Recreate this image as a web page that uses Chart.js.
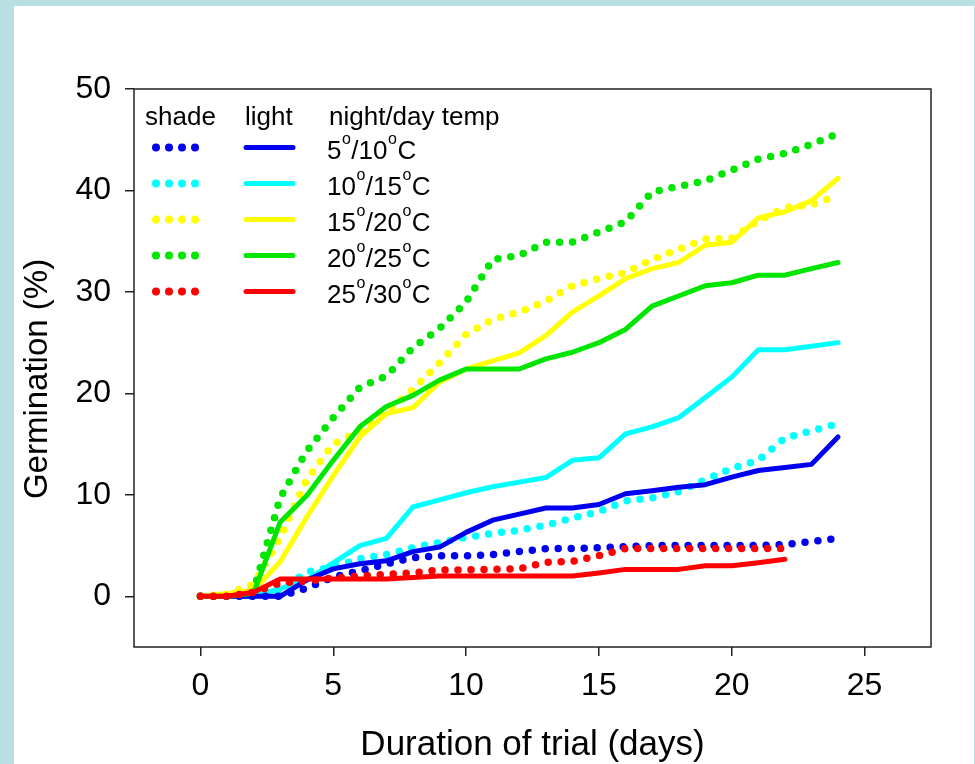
<!DOCTYPE html>
<html>
<head>
<meta charset="utf-8">
<title>Germination</title>
<script src="https://cdn.jsdelivr.net/npm/chart.js@4.4.1/dist/chart.umd.min.js"></script>
<style>
  html, body { margin: 0; padding: 0; }
  body { width: 975px; height: 764px; background: #b9dfe2; position: relative; overflow: hidden; }
  #panel { position: absolute; left: 14px; top: 6px; width: 960px; height: 758px; background: #fff; }
  #chart { position: absolute; left: 0; top: 0; }
</style>
</head>
<body>
<div id="panel"></div>
<canvas id="chart" width="975" height="764"></canvas>
<script>
// days of the trial
const days = [0, 1, 2, 3, 4, 5, 6, 7, 8, 9, 10, 11, 12, 13, 14, 15, 16, 17, 18, 19, 20, 21, 22, 23, 24];

// light (solid lines)
const light5_10  = [0, 0, 0, 0, 1.6, 2.7, 3.2, 3.5, 4.4, 4.85, 6.3, 7.5, 8.1, 8.7, 8.7, 9.05, 10.1, 10.4, 10.75, 11.0, 11.75, 12.4, 12.7, 13.0, 15.7];
const light10_15 = [0, 0, 0, 0.75, 1.6, 3.3, 5.0, 5.7, 8.8, 9.5, 10.2, 10.8, 11.25, 11.7, 13.4, 13.65, 16.0, 16.7, 17.6, 19.6, 21.6, 24.3, 24.3, 24.65, 25.0];
const light15_20 = [0, 0.27, 0.6, 3.4, 7.8, 11.9, 15.7, 18.0, 18.6, 21.1, 22.4, 23.2, 24.0, 25.7, 28.0, 29.6, 31.3, 32.3, 32.9, 34.6, 34.9, 37.3, 37.9, 39.0, 41.2];
const light20_25 = [0, 0, 0.3, 7.3, 9.9, 13.4, 16.7, 18.7, 19.8, 21.3, 22.4, 22.4, 22.4, 23.4, 24.05, 25.0, 26.3, 28.6, 29.6, 30.6, 30.9, 31.65, 31.65, 32.3, 32.9];
const light25_30 = [0, 0, 0.4, 1.7, 1.7, 1.7, 1.7, 1.7, 1.85, 2.0, 2.0, 2.0, 2.0, 2.0, 2.0, 2.3, 2.65, 2.65, 2.65, 3.0, 3.0, 3.3, 3.65];

// shade (dotted lines)
const shade5_10  = [0, 0, 0, 0, 0.8, 1.9, 2.5, 3.2, 3.8, 4.0, 4.0, 4.1, 4.4, 4.7, 4.7, 4.8, 4.9, 5.0, 5.0, 5.0, 5.0, 5.0, 5.1, 5.4, 5.7];
const shade10_15 = [0, 0, 0, 0.5, 2.4, 2.9, 3.7, 4.1, 4.8, 5.3, 5.8, 6.2, 6.5, 7.0, 7.7, 8.35, 9.4, 9.7, 10.3, 11.5, 12.6, 13.4, 15.6, 16.3, 17.0];
const shade15_20 = [0, 0.2, 1.2, 5.8, 11.5, 15.0, 16.3, 18.1, 20.4, 23.0, 25.8, 27.3, 28.0, 29.1, 30.6, 31.3, 31.9, 33.2, 34.2, 35.2, 35.3, 37.0, 38.3, 38.6, 39.5];
const shade20_25 = [0, 0, 0.5, 9.7, 14.3, 17.6, 20.6, 21.7, 24.5, 26.4, 29.0, 33.2, 33.6, 34.9, 34.9, 35.9, 36.9, 39.85, 40.4, 40.95, 42.0, 43.1, 43.65, 44.55, 45.6];
const shade25_30 = [0, 0, 0.4, 1.3, 1.5, 1.8, 2.0, 2.15, 2.3, 2.6, 2.6, 2.65, 2.7, 3.35, 3.45, 4.0, 4.7, 4.7, 4.7, 4.7, 4.7, 4.7, 4.7];

const tempLabels = ['5°/10°C', '10°/15°C', '15°/20°C', '20°/25°C', '25°/30°C'];
const xTicks = [0, 5, 10, 15, 20, 25];
const yTicks = [0, 10, 20, 30, 40, 50];

const colBlue = '#0000f0';
const colCyan = '#00ffff';
const colYellow = '#ffff00';
const colGreen = '#00e600';
const colRed = '#ff0000';
const legendColors = [colBlue, colCyan, colYellow, colGreen, colRed];

const fontFamily = '"Liberation Sans", Arial, Helvetica, sans-serif';
Chart.defaults.font.family = fontFamily;
Chart.defaults.color = '#000';

function points(values) {
    return values.map((v, i) => ({ x: days[i], y: v }));
}

function solid(values, color) {
    return {
        data: points(values),
        borderColor: color,
        borderWidth: 5,
        borderJoinStyle: 'round',
        borderCapStyle: 'round',
        pointRadius: 0,
        tension: 0,
        fill: false
    };
}

function dotted(values, color) {
    return {
        data: points(values),
        borderColor: color,
        borderWidth: 7.5,
        borderDash: [0, 13],
        borderCapStyle: 'round',
        pointRadius: 0,
        tension: 0,
        fill: false
    };
}

// draws "5o/10oC" with small raised o's
function drawTemp(ctx, label, x, base) {
    const parts = label.split('°');
    parts.forEach((part, i) => {
        ctx.font = '26px ' + fontFamily;
        ctx.fillText(part, x, base);
        x += ctx.measureText(part).width;
        if (i < parts.length - 1) {
            ctx.font = '16px ' + fontFamily;
            ctx.fillText('o', x + 0.5, base - 15.5);
            x += ctx.measureText('o').width + 1;
        }
    });
}

const framePlugin = {
    id: 'frame',
    afterDraw(chart) {
        const { ctx, chartArea } = chart;
        ctx.save();
        // box round the plot
        ctx.strokeStyle = '#222';
        ctx.lineWidth = 1.5;
        ctx.strokeRect(chartArea.left, chartArea.top, chartArea.right - chartArea.left, chartArea.bottom - chartArea.top);

        // y title
        ctx.fillStyle = '#000';
        ctx.font = '33px ' + fontFamily;
        ctx.textAlign = 'center';
        ctx.textBaseline = 'middle';
        ctx.translate(38, 379);
        ctx.rotate(-Math.PI / 2);
        ctx.fillText('Germination (%)', 0, 0);
        ctx.restore();

        // legend
        ctx.save();
        ctx.fillStyle = '#000';
        ctx.textBaseline = 'alphabetic';
        ctx.font = '26px ' + fontFamily;
        ctx.fillText('shade', 145, 125);
        ctx.fillText('light', 245, 125);
        ctx.fillText('night/day temp', 329, 125);
        tempLabels.forEach((label, i) => {
            const base = 159 + i * 36;
            const mid = base - 11.5;
            ctx.fillStyle = legendColors[i];
            for (let k = 0; k < 4; k++) {
                ctx.beginPath();
                ctx.arc(156 + k * 13, mid, 4, 0, Math.PI * 2);
                ctx.fill();
            }
            ctx.strokeStyle = legendColors[i];
            ctx.lineWidth = 5;
            ctx.lineCap = 'round';
            ctx.beginPath();
            ctx.moveTo(246, mid);
            ctx.lineTo(293, mid);
            ctx.stroke();
            ctx.fillStyle = '#000';
            drawTemp(ctx, label, 327, base);
        });
        ctx.restore();
    }
};

const axisGrid = {
    display: true,
    drawOnChartArea: false,
    drawTicks: true,
    tickLength: 9,
    color: '#222',
    lineWidth: 1.5
};

new Chart(document.getElementById('chart'), {
    type: 'line',
    data: {
        datasets: [
            solid(light25_30, colRed),
            dotted(shade25_30, colRed),
            solid(light20_25, colGreen),
            solid(light15_20, colYellow),
            dotted(shade20_25, colGreen),
            dotted(shade15_20, colYellow),
            solid(light5_10, colBlue),
            dotted(shade5_10, colBlue),
            solid(light10_15, colCyan),
            dotted(shade10_15, colCyan)
        ]
    },
    options: {
        responsive: false,
        animation: false,
        layout: { padding: { top: 89, right: 44, left: 0, bottom: 0 } },
        plugins: {
            legend: { display: false },
            tooltip: { enabled: false }
        },
        scales: {
            x: {
                type: 'linear',
                min: -2.5,
                max: 27.5,
                grid: axisGrid,
                border: { display: false },
                ticks: { font: { size: 32 }, padding: 11, color: '#000' },
                afterBuildTicks: (scale) => { scale.ticks = xTicks.map(v => ({ value: v })); },
                afterFit: (scale) => { scale.height = 117; },
                title: {
                    display: true,
                    text: 'Duration of trial (days)',
                    font: { size: 35 },
                    color: '#000',
                    padding: { top: 0, bottom: -2 }
                }
            },
            y: {
                type: 'linear',
                min: -5,
                max: 50,
                grid: axisGrid,
                border: { display: false },
                ticks: { font: { size: 32 }, padding: 14, color: '#000' },
                afterBuildTicks: (scale) => { scale.ticks = yTicks.map(v => ({ value: v })); },
                afterFit: (scale) => { scale.width = 134; }
            }
        }
    },
    plugins: [framePlugin]
});
</script>
</body>
</html>
